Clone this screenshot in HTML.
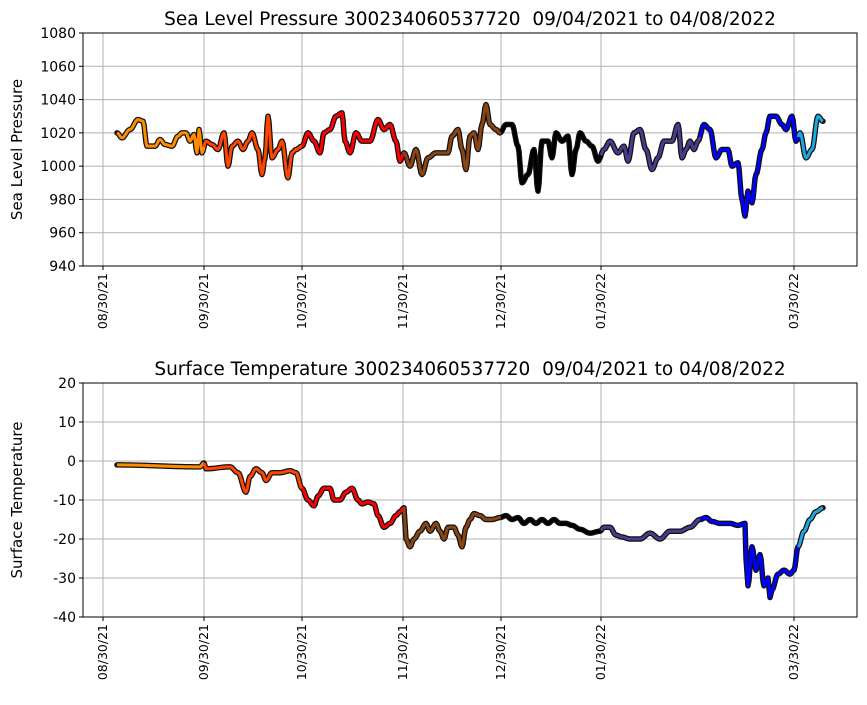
<!DOCTYPE html><html><head><style>body{margin:0;background:#fff}svg{font-family:"DejaVu Sans","Liberation Sans",sans-serif}</style></head><body>
<svg id="s" width="867" height="700" xmlns="http://www.w3.org/2000/svg"></svg>
<script>
const S=document.getElementById('s');let h='';
const ticks=[[103,'08/30/21'],[204,'09/30/21'],[302,'10/30/21'],[403,'11/30/21'],[501,'12/30/21'],[601,'01/30/22'],[794,'03/30/22']];
function color(x){return x<204?'#ff8c00':x<302?'#ff4500':x<403?'#ff0000':x<501?'#8b4513':x<601?'#000':x<700?'#483d8b':x<798?'#0000ff':'#1ca7e0';}
function panel(top,bot,ymin,ymax,step,title,ylab,pts){
 const L=83,R=857,Y=v=>bot-(v-ymin)/(ymax-ymin)*(bot-top);
 for(let v=ymin;v<=ymax;v+=step){h+=`<line x1="${L}" x2="${R}" y1="${Y(v)}" y2="${Y(v)}" stroke="#b0b0b0" stroke-width="1"/><line x1="${L-4}" x2="${L}" y1="${Y(v)}" y2="${Y(v)}" stroke="#000"/><text x="${L-7}" y="${Y(v)+5}" font-size="14" text-anchor="end">${v}</text>`;}
 for(const [x,t] of ticks){h+=`<line x1="${x}" x2="${x}" y1="${top}" y2="${bot}" stroke="#b0b0b0"/><line x1="${x}" x2="${x}" y1="${bot}" y2="${bot+4}" stroke="#000"/><text transform="translate(${x+4},${bot+7}) rotate(-90)" font-size="12.5" text-anchor="end">${t}</text>`;}
 let d=[];for(let i=0;i<pts.length-1;i++){const[x0,v0]=pts[i],[x1,v1]=pts[i+1];for(let x=x0;x<x1;x+=1){const t=(x-x0)/(x1-x0);d.push([x,Y(v0+(v1-v0)*(0.5-0.5*Math.cos(Math.PI*t)))]);}}
 d.push([pts[pts.length-1][0],Y(pts[pts.length-1][1])]);
 h+=`<polyline fill="none" stroke="#111" stroke-width="5.5" stroke-linejoin="round" stroke-linecap="round" points="${d.map(p=>p.join(',')).join(' ')}"/>`;
 let seg=[],c=color(d[0][0]);
 for(const p of d){const cc=color(p[0]);seg.push(p);if(cc!==c){h+=`<polyline fill="none" stroke="${c}" stroke-width="3" stroke-linejoin="round" points="${seg.map(p=>p.join(',')).join(' ')}"/>`;seg=[p];c=cc;}}
 h+=`<polyline fill="none" stroke="${c}" stroke-width="3" stroke-linejoin="round" points="${seg.map(p=>p.join(',')).join(' ')}"/>`;
 h+=`<rect x="${L}" y="${top}" width="${R-L}" height="${bot-top}" fill="none" stroke="#000" stroke-width="1"/>`;
 h+=`<text x="${(L+R)/2}" y="${top-8}" font-size="18.5" text-anchor="middle" xml:space="preserve">${title}</text>`;
 h+=`<text transform="translate(${L-61},${(top+bot)/2}) rotate(-90)" font-size="15" text-anchor="middle">${ylab}</text>`;
}
const P=[[117,1020],[122,1017],[130,1022],[138,1028],[143,1027],[147,1012],[155,1012],[160,1016],[165,1013],[172,1012],[178,1018],[182,1020],[186,1020],[190,1015],[194,1019],[197,1008],[199,1022],[202,1008],[206,1015],[212,1013],[218,1010],[224,1020],[228,1000],[232,1012],[238,1015],[243,1010],[248,1015],[252,1020],[258,1010],[262,995],[265,1005],[268,1030],[272,1005],[278,1010],[282,1015],[288,993],[292,1008],[296,1010],[302,1012],[308,1020],[314,1015],[320,1008],[324,1020],[330,1022],[336,1030],[342,1032],[345,1015],[350,1008],[356,1020],[362,1015],[370,1015],[378,1028],[384,1022],[390,1025],[396,1015],[400,1003],[404,1008],[410,1000],[416,1010],[422,995],[428,1005],[436,1008],[442,1008],[448,1008],[452,1018],[458,1022],[462,1010],[466,998],[470,1018],[474,1020],[478,1010],[482,1025],[486,1037],[490,1025],[496,1022],[500,1020],[506,1025],[512,1025],[518,1012],[522,990],[528,995],[534,1010],[538,985],[542,1015],[548,1015],[552,1005],[556,1020],[562,1015],[568,1018],[572,995],[576,1010],[580,1020],[586,1015],[592,1012],[598,1003],[604,1010],[610,1015],[618,1008],[624,1012],[628,1003],[634,1020],[640,1022],[646,1010],[652,998],[658,1005],[664,1015],[672,1015],[678,1025],[682,1005],[686,1010],[690,1015],[694,1010],[698,1015],[704,1025],[710,1022],[716,1005],[722,1010],[728,1010],[732,1000],[738,1002],[742,980],[745,970],[748,985],[752,978],[756,995],[762,1010],[766,1020],[770,1030],[776,1030],[782,1025],[786,1022],[792,1030],[796,1015],[800,1020],[806,1005],[812,1010],[818,1030],[823,1027]];
const T=[[117,-1],[200,-1.5],[204,-0.5],[206,-2],[230,-1.5],[238,-3],[246,-8],[250,-4],[256,-2],[262,-3],[266,-5],[272,-3],[280,-3],[290,-2.5],[296,-3],[302,-7],[308,-10],[314,-11.5],[318,-9],[324,-7],[330,-7],[334,-10],[340,-10],[346,-8],[352,-7],[358,-10],[362,-11],[368,-10.5],[374,-11],[378,-14],[384,-17],[390,-16],[396,-14],[400,-13],[404,-12],[406,-20],[410,-22],[414,-20],[420,-18],[426,-16],[430,-18],[436,-16],[440,-18],[444,-20],[448,-17],[454,-17],[458,-19],[462,-22],[466,-17],[470,-15],[474,-13.5],[480,-14],[486,-15],[492,-15],[500,-14.5],[506,-14],[512,-15],[518,-14.5],[524,-16],[530,-15],[536,-16],[542,-15],[548,-16],[554,-15],[560,-16],[566,-16],[572,-16.5],[580,-17.5],[590,-18.5],[600,-18],[604,-17],[610,-17],[616,-19],[622,-19.5],[630,-20],[640,-20],[650,-18.5],[660,-20],[670,-18],[680,-18],[690,-17],[700,-15],[706,-14.5],[712,-15.5],[720,-16],[730,-16],[738,-16.5],[745,-16],[746,-25],[748,-32],[752,-22],[756,-28],[760,-24],[764,-32],[768,-30],[770,-35],[772,-33],[778,-29],[784,-28],[790,-29],[794,-28],[798,-22],[804,-18],[810,-15],[816,-13],[823,-12]];
panel(33,266,940,1080,20,'Sea Level Pressure 300234060537720  09/04/2021 to 04/08/2022','Sea Level Pressure',P);
panel(383,617,-40,20,10,'Surface Temperature 300234060537720  09/04/2021 to 04/08/2022','Surface Temperature',T);
S.innerHTML=h;
</script></body></html>
